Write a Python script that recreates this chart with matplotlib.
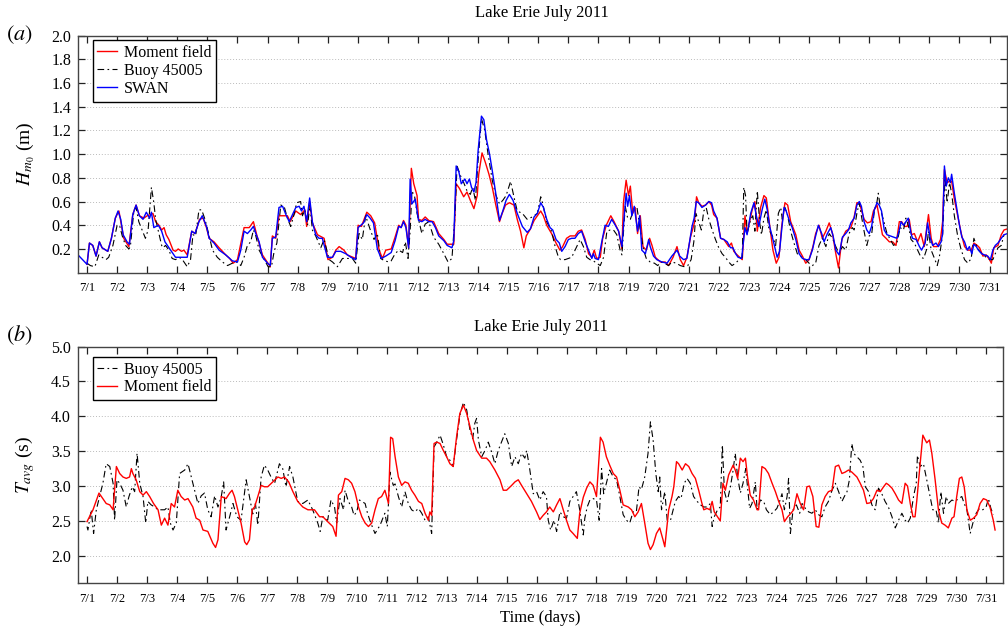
import matplotlib
matplotlib.use("Agg")
import matplotlib.pyplot as plt
import numpy as np

plt.rcParams['font.family'] = ['Liberation Serif', 'DejaVu Serif']
plt.rcParams['mathtext.fontset'] = 'stix'

# days since 7/1 00:00 and Hm0 (m)
hm0_moment = [
    (0.00, 0.07), (0.08, 0.25), (0.19, 0.23), (0.30, 0.14), (0.41, 0.26), (0.50, 0.21), (0.69, 0.18), (0.81, 0.29), (0.94, 0.46),
    (1.06, 0.52), (1.22, 0.29), (1.39, 0.22), (1.52, 0.49), (1.63, 0.57), (1.74, 0.48), (1.89, 0.46), (2.00, 0.48), (2.11, 0.49),
    (2.19, 0.50), (2.28, 0.43), (2.39, 0.40), (2.48, 0.36), (2.56, 0.38), (2.63, 0.32), (2.72, 0.28), (2.86, 0.19), (2.94, 0.18),
    (3.03, 0.20), (3.14, 0.18), (3.22, 0.19), (3.33, 0.15), (3.48, 0.35), (3.59, 0.33), (3.74, 0.45), (3.86, 0.46), (3.97, 0.38),
    (4.06, 0.29), (4.22, 0.26), (4.39, 0.21), (4.61, 0.15), (4.74, 0.12), (4.86, 0.08),
    (5.00, 0.11), (5.22, 0.38), (5.39, 0.38), (5.53, 0.43), (5.64, 0.32), (5.83, 0.15), (6.09, 0.05), (6.16, 0.31), (6.27, 0.29),
    (6.38, 0.48), (6.50, 0.48), (6.66, 0.48), (6.75, 0.43), (6.94, 0.52), (7.10, 0.49), (7.24, 0.53), (7.30, 0.39), (7.40, 0.60),
    (7.49, 0.42), (7.66, 0.32), (7.88, 0.29), (8.01, 0.11), (8.16, 0.13), (8.27, 0.19), (8.38, 0.22), (8.54, 0.19), (8.65, 0.15),
    (8.93, 0.12), (9.01, 0.40), (9.12, 0.39), (9.30, 0.51), (9.43, 0.48), (9.56, 0.42), (9.71, 0.19), (9.82, 0.12), (9.93, 0.19),
    (10.11, 0.20), (10.24, 0.30), (10.36, 0.40), (10.44, 0.38), (10.52, 0.44), (10.60, 0.40), (10.69, 0.21), (10.78, 0.88),
    (10.86, 0.75), (10.97, 0.65), (11.02, 0.45), (11.13, 0.44), (11.24, 0.47), (11.36, 0.44), (11.52, 0.43), (11.69, 0.33),
    (11.86, 0.28), (11.97, 0.24), (12.19, 0.24), (12.27, 0.75), (12.38, 0.71), (12.52, 0.64), (12.63, 0.68), (12.74, 0.61),
    (12.86, 0.54), (12.97, 0.65), (13.02, 0.83), (13.13, 1.01), (13.24, 0.93), (13.36, 0.83), (13.47, 0.72), (13.58, 0.58),
    (13.71, 0.43), (13.80, 0.50), (13.91, 0.57), (14.04, 0.59), (14.19, 0.57), (14.30, 0.45), (14.41, 0.35), (14.52, 0.21),
    (14.60, 0.31), (14.74, 0.37), (14.86, 0.44), (14.97, 0.48), (15.08, 0.52), (15.17, 0.48), (15.28, 0.40),
    (15.44, 0.33), (15.59, 0.25), (15.72, 0.19), (15.81, 0.22), (15.94, 0.29), (16.06, 0.31), (16.22, 0.31), (16.33, 0.35),
    (16.44, 0.36), (16.56, 0.28), (16.67, 0.16), (16.78, 0.13), (16.86, 0.19), (16.94, 0.12), (17.06, 0.13), (17.14, 0.29),
    (17.26, 0.40), (17.41, 0.48), (17.52, 0.43), (17.67, 0.35), (17.78, 0.20), (17.83, 0.59), (17.92, 0.78), (18.00, 0.65),
    (18.06, 0.73), (18.14, 0.50), (18.22, 0.55), (18.30, 0.33), (18.39, 0.48), (18.48, 0.22), (18.59, 0.19), (18.70, 0.29),
    (18.78, 0.23), (18.89, 0.13), (19.06, 0.09), (19.22, 0.09), (19.33, 0.06), (19.48, 0.13), (19.61, 0.22), (19.72, 0.11),
    (19.83, 0.06), (19.94, 0.13), (20.06, 0.30), (20.19, 0.42), (20.26, 0.64),
    (20.33, 0.59), (20.44, 0.56), (20.56, 0.57), (20.67, 0.60), (20.76, 0.57), (20.83, 0.49), (20.94, 0.46), (21.06, 0.29),
    (21.17, 0.28), (21.33, 0.22), (21.42, 0.25), (21.50, 0.18), (21.61, 0.15), (21.78, 0.11), (21.87, 0.48), (21.94, 0.33),
    (22.11, 0.53), (22.20, 0.60), (22.28, 0.35), (22.39, 0.55), (22.50, 0.65), (22.58, 0.63), (22.69, 0.40), (22.80, 0.19),
    (22.91, 0.08), (23.00, 0.13), (23.09, 0.39), (23.20, 0.59), (23.29, 0.57), (23.39, 0.43), (23.56, 0.32), (23.67, 0.19),
    (23.78, 0.14), (23.89, 0.08), (24.00, 0.11), (24.13, 0.22), (24.22, 0.33), (24.33, 0.40), (24.44, 0.29), (24.56, 0.35),
    (24.67, 0.42), (24.78, 0.33), (24.89, 0.16), (24.98, 0.04), (25.09, 0.28), (25.22, 0.35), (25.39, 0.38), (25.50, 0.47),
    (25.59, 0.59), (25.67, 0.59), (25.83, 0.45), (25.94, 0.42), (26.06, 0.43), (26.14, 0.52), (26.26, 0.57), (26.37, 0.42),
    (26.44, 0.32), (26.56, 0.29), (26.67, 0.26), (26.78, 0.26), (26.89, 0.23), (27.00, 0.43), (27.08, 0.43), (27.17, 0.39),
    (27.26, 0.39), (27.33, 0.45), (27.41, 0.32), (27.50, 0.33), (27.61, 0.26), (27.72, 0.33), (27.83, 0.22), (27.97, 0.49),
    (28.06, 0.29), (28.14, 0.22), (28.26, 0.22), (28.37, 0.28), (28.44, 0.43), (28.50, 0.87), (28.59, 0.76), (28.67, 0.77),
    (28.74, 0.77), (28.83, 0.62), (28.94, 0.48), (29.06, 0.33), (29.17, 0.22), (29.28, 0.19), (29.39, 0.19), (29.48, 0.25),
    (29.59, 0.23), (29.67, 0.21), (29.78, 0.14), (29.89, 0.15), (30.00, 0.11), (30.06, 0.08), (30.14, 0.21), (30.28, 0.23),
    (30.39, 0.32), (30.48, 0.36), (30.60, 0.37),
]

hm0_swan = [
    (-0.30, 0.15), (0.00, 0.07), (0.08, 0.25), (0.19, 0.23), (0.30, 0.14), (0.41, 0.26), (0.50, 0.21), (0.69, 0.18), (0.81, 0.29),
    (0.94, 0.46), (1.03, 0.52), (1.12, 0.45), (1.20, 0.32), (1.33, 0.26), (1.41, 0.24), (1.52, 0.49), (1.63, 0.57), (1.74, 0.48),
    (1.86, 0.45), (1.97, 0.51), (2.08, 0.46), (2.14, 0.51), (2.22, 0.38), (2.37, 0.40), (2.48, 0.35), (2.59, 0.26), (2.78, 0.19),
    (2.94, 0.13), (3.11, 0.13), (3.33, 0.13), (3.48, 0.35), (3.59, 0.33), (3.72, 0.43), (3.83, 0.48), (3.97, 0.39), (4.06, 0.29),
    (4.22, 0.25), (4.39, 0.19), (4.61, 0.15), (4.83, 0.10),
    (5.00, 0.09), (5.11, 0.19), (5.22, 0.35), (5.33, 0.33), (5.44, 0.36), (5.53, 0.39), (5.61, 0.33), (5.72, 0.26), (5.83, 0.13),
    (6.00, 0.08), (6.09, 0.06), (6.16, 0.29), (6.27, 0.30), (6.38, 0.55), (6.50, 0.56), (6.61, 0.49), (6.72, 0.43), (6.83, 0.49),
    (6.94, 0.55), (7.05, 0.56), (7.13, 0.52), (7.21, 0.56), (7.30, 0.43), (7.40, 0.63), (7.49, 0.43), (7.60, 0.32), (7.71, 0.29),
    (7.82, 0.29), (7.99, 0.13), (8.16, 0.13), (8.27, 0.18), (8.43, 0.18), (8.60, 0.16), (8.77, 0.13), (8.93, 0.11), (9.01, 0.38),
    (9.10, 0.40), (9.19, 0.42), (9.30, 0.49), (9.41, 0.46), (9.52, 0.42), (9.65, 0.20), (9.78, 0.12), (9.93, 0.14),
    (10.11, 0.17), (10.24, 0.27), (10.36, 0.39), (10.44, 0.38), (10.52, 0.43), (10.60, 0.38), (10.69, 0.21), (10.74, 0.79),
    (10.80, 0.58), (10.91, 0.62), (11.02, 0.44), (11.13, 0.43), (11.24, 0.45), (11.36, 0.43), (11.47, 0.43), (11.58, 0.38),
    (11.69, 0.31), (11.86, 0.27), (11.97, 0.23), (12.13, 0.21), (12.19, 0.27), (12.27, 0.90), (12.36, 0.85), (12.44, 0.75),
    (12.56, 0.79), (12.63, 0.75), (12.71, 0.79), (12.78, 0.72), (12.86, 0.68), (12.93, 0.76), (13.00, 1.03), (13.11, 1.32),
    (13.19, 1.29), (13.28, 1.12), (13.38, 1.00), (13.47, 0.86), (13.58, 0.68), (13.71, 0.44), (13.82, 0.52), (13.93, 0.61),
    (14.04, 0.66), (14.16, 0.61), (14.30, 0.50), (14.47, 0.39), (14.63, 0.34), (14.74, 0.37), (14.86, 0.47), (14.97, 0.50),
    (15.08, 0.59),
    (15.17, 0.55), (15.28, 0.45), (15.39, 0.38), (15.48, 0.36), (15.59, 0.28), (15.70, 0.25), (15.78, 0.18), (15.89, 0.22),
    (16.00, 0.28), (16.11, 0.29), (16.22, 0.29), (16.33, 0.33), (16.44, 0.35), (16.56, 0.26), (16.67, 0.19), (16.78, 0.12),
    (16.83, 0.16), (16.89, 0.12), (17.00, 0.11), (17.11, 0.26), (17.22, 0.40), (17.33, 0.39), (17.44, 0.45), (17.56, 0.40),
    (17.67, 0.35), (17.78, 0.22), (17.86, 0.49), (17.92, 0.67), (17.97, 0.56), (18.03, 0.65), (18.11, 0.48), (18.19, 0.56),
    (18.30, 0.35), (18.37, 0.48), (18.44, 0.19), (18.56, 0.16), (18.67, 0.28), (18.72, 0.22), (18.83, 0.14), (18.94, 0.11),
    (19.11, 0.09), (19.28, 0.08), (19.44, 0.14), (19.61, 0.19), (19.70, 0.14), (19.83, 0.11), (19.94, 0.12), (20.11, 0.39),
    (20.18, 0.46), (20.25, 0.60),
    (20.33, 0.59), (20.44, 0.55), (20.56, 0.57), (20.67, 0.60), (20.76, 0.59), (20.83, 0.52), (20.94, 0.46), (21.06, 0.29),
    (21.17, 0.28), (21.28, 0.26), (21.39, 0.21), (21.47, 0.21), (21.56, 0.16), (21.64, 0.13), (21.76, 0.12), (21.87, 0.38),
    (21.94, 0.32), (22.06, 0.50), (22.17, 0.59), (22.24, 0.49), (22.33, 0.39), (22.44, 0.53), (22.53, 0.62), (22.61, 0.53),
    (22.69, 0.39), (22.80, 0.28), (22.94, 0.13), (23.02, 0.18), (23.09, 0.36), (23.17, 0.55), (23.24, 0.52), (23.33, 0.45),
    (23.44, 0.38), (23.56, 0.28), (23.67, 0.16), (23.78, 0.12), (23.89, 0.11), (24.00, 0.11), (24.11, 0.19), (24.20, 0.29),
    (24.31, 0.40), (24.42, 0.33), (24.50, 0.26), (24.61, 0.33), (24.72, 0.38), (24.80, 0.31), (24.89, 0.19), (25.00, 0.15),
    (25.11, 0.30), (25.22, 0.33), (25.31, 0.36), (25.39, 0.42), (25.50, 0.46),
    (25.59, 0.57), (25.67, 0.60), (25.74, 0.56), (25.83, 0.43), (25.92, 0.36), (26.00, 0.33), (26.08, 0.39), (26.17, 0.53),
    (26.26, 0.59), (26.33, 0.57), (26.41, 0.52), (26.50, 0.36), (26.59, 0.32), (26.70, 0.31), (26.81, 0.30), (26.92, 0.29),
    (27.00, 0.36), (27.06, 0.43), (27.14, 0.40), (27.22, 0.43), (27.30, 0.46), (27.39, 0.33), (27.44, 0.29), (27.56, 0.28),
    (27.67, 0.22), (27.74, 0.19), (27.86, 0.25), (27.94, 0.42), (28.03, 0.29), (28.11, 0.23), (28.22, 0.25), (28.30, 0.22),
    (28.39, 0.26), (28.44, 0.33), (28.50, 0.90), (28.56, 0.73), (28.63, 0.80), (28.70, 0.76), (28.74, 0.83), (28.83, 0.67),
    (28.92, 0.53), (29.00, 0.40), (29.08, 0.30), (29.17, 0.26), (29.26, 0.19), (29.33, 0.22), (29.41, 0.16), (29.48, 0.24),
    (29.56, 0.22), (29.63, 0.19), (29.74, 0.16), (29.83, 0.15), (29.94, 0.14), (30.03, 0.11), (30.11, 0.19), (30.19, 0.23),
    (30.28, 0.25), (30.39, 0.29), (30.48, 0.32), (30.60, 0.33),
]

hm0_buoy = [
    (0.00, 0.08), (0.11, 0.06), (0.26, 0.05), (0.39, 0.15), (0.50, 0.13), (0.63, 0.11), (0.72, 0.13), (0.86, 0.23), (1.00, 0.40),
    (1.08, 0.40), (1.17, 0.31), (1.28, 0.23), (1.39, 0.20), (1.44, 0.22), (1.56, 0.53), (1.63, 0.55), (1.72, 0.43), (1.83, 0.36),
    (1.94, 0.29), (2.03, 0.36), (2.14, 0.72), (2.22, 0.59), (2.28, 0.45), (2.39, 0.33), (2.48, 0.23), (2.52, 0.21), (2.61, 0.23),
    (2.72, 0.19), (2.83, 0.12), (2.94, 0.11), (3.06, 0.13), (3.17, 0.11), (3.33, 0.05), (3.44, 0.11), (3.52, 0.32), (3.61, 0.31),
    (3.72, 0.53), (3.81, 0.53), (3.92, 0.45), (4.06, 0.31), (4.17, 0.19), (4.33, 0.13), (4.50, 0.09), (4.67, 0.06), (4.83, 0.08),
    (5.00, 0.09), (5.11, 0.06), (5.22, 0.13), (5.33, 0.23), (5.44, 0.26), (5.53, 0.36), (5.61, 0.31), (5.72, 0.19), (5.89, 0.11),
    (6.02, 0.05), (6.13, 0.05), (6.22, 0.18), (6.31, 0.25), (6.44, 0.57), (6.55, 0.56), (6.66, 0.46), (6.77, 0.39), (6.88, 0.49),
    (6.97, 0.59), (7.10, 0.60), (7.16, 0.48), (7.24, 0.53), (7.33, 0.40), (7.41, 0.57), (7.49, 0.36), (7.60, 0.31), (7.77, 0.21),
    (7.88, 0.28), (8.05, 0.11), (8.16, 0.09), (8.32, 0.05), (8.49, 0.12), (8.65, 0.12), (8.82, 0.12), (8.93, 0.08), (9.04, 0.33),
    (9.15, 0.28), (9.26, 0.48), (9.43, 0.35), (9.54, 0.28), (9.65, 0.33), (9.76, 0.12), (9.89, 0.10), (10.04, 0.09),
    (10.11, 0.10), (10.24, 0.16), (10.36, 0.19), (10.49, 0.17), (10.58, 0.26), (10.67, 0.12), (10.74, 0.35), (10.80, 0.69),
    (10.89, 0.64), (10.97, 0.50), (11.13, 0.33), (11.24, 0.41), (11.36, 0.43), (11.52, 0.30), (11.69, 0.24), (11.86, 0.16),
    (12.00, 0.09), (12.13, 0.12), (12.22, 0.44), (12.30, 0.90), (12.41, 0.82), (12.52, 0.76), (12.63, 0.69), (12.74, 0.66),
    (12.82, 0.72), (12.91, 0.61), (13.00, 0.95), (13.11, 1.30), (13.22, 1.20), (13.33, 1.00), (13.47, 0.78), (13.58, 0.66),
    (13.71, 0.58), (13.82, 0.61), (13.93, 0.65), (14.08, 0.77), (14.19, 0.64), (14.30, 0.52), (14.47, 0.50), (14.63, 0.45),
    (14.80, 0.47), (14.97, 0.50), (15.08, 0.64),
    (15.14, 0.59), (15.28, 0.43), (15.44, 0.35), (15.56, 0.22), (15.67, 0.13), (15.74, 0.11), (15.89, 0.11), (16.00, 0.12),
    (16.11, 0.13), (16.28, 0.22), (16.39, 0.28), (16.50, 0.22), (16.61, 0.13), (16.72, 0.11), (16.83, 0.10), (16.94, 0.08),
    (17.06, 0.06), (17.17, 0.13), (17.28, 0.35), (17.39, 0.36), (17.50, 0.36), (17.61, 0.32), (17.72, 0.19), (17.78, 0.15),
    (17.89, 0.56), (17.97, 0.46), (18.06, 0.45), (18.17, 0.53), (18.28, 0.55), (18.39, 0.36), (18.50, 0.19), (18.59, 0.12),
    (18.72, 0.09), (18.86, 0.08), (18.97, 0.06), (19.08, 0.09), (19.19, 0.08), (19.33, 0.06), (19.44, 0.09), (19.59, 0.08),
    (19.72, 0.06), (19.86, 0.05), (19.97, 0.06), (20.08, 0.11), (20.17, 0.26), (20.24, 0.50),
    (20.33, 0.43), (20.42, 0.36), (20.50, 0.52), (20.58, 0.55), (20.67, 0.45), (20.78, 0.36), (20.89, 0.28), (21.00, 0.21),
    (21.11, 0.16), (21.22, 0.13), (21.33, 0.09), (21.44, 0.06), (21.56, 0.08), (21.67, 0.11), (21.78, 0.13), (21.83, 0.72),
    (21.89, 0.65), (21.94, 0.33), (22.06, 0.45), (22.13, 0.48), (22.20, 0.35), (22.28, 0.69), (22.36, 0.42), (22.42, 0.32),
    (22.50, 0.46), (22.58, 0.53), (22.67, 0.36), (22.78, 0.31), (22.89, 0.23), (22.98, 0.50), (23.06, 0.55), (23.11, 0.45),
    (23.20, 0.55), (23.28, 0.49), (23.39, 0.35), (23.50, 0.25), (23.61, 0.16), (23.76, 0.13), (23.89, 0.11), (24.00, 0.08),
    (24.11, 0.06), (24.22, 0.08), (24.33, 0.23), (24.44, 0.29), (24.56, 0.22), (24.67, 0.33), (24.78, 0.29), (24.89, 0.22),
    (25.00, 0.16), (25.11, 0.22), (25.22, 0.19), (25.33, 0.33), (25.44, 0.38), (25.50, 0.36),
    (25.59, 0.50), (25.67, 0.59), (25.74, 0.48), (25.83, 0.35), (25.92, 0.23), (26.00, 0.31), (26.08, 0.32), (26.17, 0.52),
    (26.26, 0.60), (26.30, 0.67), (26.39, 0.52), (26.50, 0.42), (26.59, 0.33), (26.70, 0.28), (26.81, 0.23), (26.92, 0.25),
    (27.03, 0.38), (27.14, 0.36), (27.22, 0.46), (27.30, 0.40), (27.39, 0.28), (27.50, 0.25), (27.61, 0.19), (27.72, 0.13),
    (27.81, 0.12), (27.90, 0.19), (27.97, 0.35), (28.06, 0.19), (28.17, 0.12), (28.26, 0.06), (28.33, 0.13), (28.44, 0.32),
    (28.52, 0.80), (28.59, 0.59), (28.67, 0.76), (28.74, 0.67), (28.83, 0.48), (28.94, 0.31), (29.06, 0.19), (29.17, 0.11),
    (29.28, 0.08), (29.39, 0.12), (29.48, 0.29), (29.56, 0.23), (29.67, 0.18), (29.78, 0.15), (29.89, 0.13), (30.00, 0.11),
    (30.11, 0.11), (30.19, 0.16), (30.28, 0.21), (30.39, 0.23), (30.48, 0.32),
]

# days since 7/1 00:00 and Tavg (s)
tavg_moment = [
    (0.00, 2.49), (0.20, 2.66), (0.40, 2.90), (0.64, 2.75), (0.76, 2.73), (0.87, 2.66), (0.98, 3.28), (1.09, 3.18), (1.20, 3.13),
    (1.31, 3.11), (1.42, 3.13), (1.48, 3.25), (1.53, 3.18), (1.64, 3.09), (1.76, 2.92), (1.87, 2.87), (1.98, 2.92), (2.09, 2.85),
    (2.22, 2.75), (2.37, 2.66), (2.48, 2.44), (2.59, 2.54), (2.70, 2.44), (2.81, 2.75), (2.92, 2.70), (3.03, 2.94), (3.14, 2.85),
    (3.26, 2.80), (3.37, 2.82), (3.53, 2.70), (3.64, 2.54), (3.76, 2.51), (3.87, 2.37), (4.03, 2.35), (4.20, 2.18), (4.29, 2.12),
    (4.37, 2.23), (4.48, 2.85), (4.64, 2.82), (4.76, 2.90), (4.84, 2.94), (4.92, 2.85), (5.03, 2.66), (5.14, 2.47), (5.26, 2.20),
    (5.33, 2.16), (5.42, 2.23), (5.51, 2.66), (5.59, 2.70), (5.70, 2.85), (5.81, 3.01), (5.92, 2.99), (6.03, 2.99), (6.20, 3.06),
    (6.37, 3.13), (6.48, 3.11), (6.59, 3.13), (6.73, 3.06), (6.87, 2.92), (7.03, 2.78), (7.20, 2.70), (7.37, 2.66), (7.59, 2.66),
    (7.76, 2.56), (7.87, 2.56), (8.03, 2.49), (8.20, 2.42), (8.31, 2.28),
    (8.39, 2.87), (8.50, 2.92), (8.61, 3.11), (8.72, 3.09), (8.83, 3.04), (8.94, 2.92), (9.06, 2.70), (9.17, 2.56), (9.28, 2.47),
    (9.39, 2.42), (9.50, 2.47), (9.61, 2.66), (9.72, 2.82), (9.83, 2.85), (9.94, 2.94), (10.06, 2.75), (10.13, 3.70),
    (10.20, 3.68), (10.28, 3.42), (10.39, 3.13), (10.50, 3.01), (10.61, 3.06), (10.72, 3.04), (10.83, 2.94), (10.94, 2.87),
    (11.06, 2.78), (11.17, 2.75), (11.28, 2.61), (11.39, 2.51), (11.44, 2.63), (11.50, 2.58), (11.58, 3.61), (11.67, 3.63),
    (11.78, 3.61), (11.89, 3.51), (12.00, 3.42), (12.11, 3.32), (12.22, 3.28), (12.33, 3.70), (12.44, 4.04), (12.56, 4.16),
    (12.67, 4.04), (12.78, 3.85), (12.89, 3.66), (13.00, 3.51), (13.17, 3.40), (13.33, 3.40), (13.44, 3.35), (13.61, 3.23),
    (13.78, 3.09), (13.89, 2.94), (14.00, 2.94), (14.17, 3.01), (14.28, 3.06), (14.39, 3.09), (14.50, 3.01), (14.67, 2.89),
    (14.83, 2.78), (15.00, 2.63), (15.11, 2.52), (15.22, 2.58), (15.33, 2.63), (15.44, 2.70), (15.56, 2.63), (15.67, 2.73),
    (15.78, 2.82), (15.89, 2.66), (16.00, 2.51), (16.11, 2.37), (16.22, 2.32), (16.36, 2.25), (16.44, 2.61), (16.56, 2.84),
    (16.67, 2.97), (16.78, 3.06), (16.89, 3.01), (17.00, 2.85), (17.13, 3.70), (17.22, 3.63), (17.33, 3.42), (17.44, 3.30),
    (17.56, 3.18), (17.67, 3.13), (17.78, 2.94), (17.89, 2.73), (18.06, 2.70), (18.17, 2.66), (18.28, 2.56), (18.39, 2.63),
    (18.50, 2.75), (18.61, 2.47), (18.72, 2.18), (18.80, 2.09), (18.89, 2.16), (19.00, 2.32), (19.11, 2.40), (19.22, 2.23),
    (19.28, 2.13), (19.41, 2.66), (19.52, 2.85), (19.58, 2.99), (19.67, 3.35), (19.74, 3.32), (19.86, 3.23), (19.97, 3.32),
    (20.08, 3.28), (20.19, 3.18), (20.30, 3.11), (20.41, 2.94), (20.52, 2.75), (20.58, 2.66), (20.69, 2.68), (20.78, 2.66),
    (20.86, 2.78), (20.93, 2.63), (21.13, 2.50), (21.22, 3.04), (21.30, 2.94), (21.41, 3.16), (21.56, 3.30), (21.63, 3.23),
    (21.71, 3.11), (21.80, 3.40), (21.89, 3.35), (21.97, 3.40), (22.04, 3.13), (22.13, 2.87), (22.24, 2.80), (22.36, 2.66),
    (22.41, 2.66), (22.52, 3.28), (22.63, 3.25), (22.74, 3.18), (22.86, 3.04), (22.97, 2.92), (23.08, 2.78), (23.19, 2.66),
    (23.27, 2.49), (23.38, 2.56), (23.49, 2.61), (23.58, 2.66), (23.69, 2.89), (23.80, 2.75), (23.91, 2.66), (24.02, 2.99),
    (24.11, 3.00), (24.22, 2.85), (24.33, 2.42), (24.42, 2.41), (24.52, 2.73), (24.63, 2.85), (24.74, 2.92), (24.86, 2.94),
    (24.97, 3.28), (25.08, 3.30), (25.19, 3.18), (25.30, 3.20), (25.41, 3.23), (25.52, 3.20), (25.69, 3.13), (25.80, 3.04),
    (25.91, 2.94), (26.02, 2.75), (26.13, 2.76), (26.24, 2.82), (26.36, 2.94), (26.47, 2.92), (26.58, 2.99), (26.67, 3.04),
    (26.74, 3.02), (26.86, 2.97), (26.97, 2.89), (27.08, 2.80), (27.19, 2.75), (27.30, 3.04), (27.38, 3.00), (27.47, 2.75),
    (27.56, 2.56), (27.63, 2.56), (27.69, 2.80), (27.78, 3.23), (27.89, 3.73), (27.97, 3.66), (28.02, 3.62), (28.11, 3.66),
    (28.19, 3.47), (28.30, 3.09), (28.41, 2.66), (28.52, 2.47), (28.63, 2.44), (28.74, 2.40), (28.86, 2.54), (28.93, 2.56),
    (29.02, 2.85), (29.11, 3.11), (29.19, 3.13), (29.27, 2.99), (29.36, 2.66), (29.47, 2.51), (29.58, 2.54), (29.69, 2.59),
    (29.80, 2.75), (29.91, 2.82), (30.02, 2.80), (30.13, 2.70), (30.24, 2.51), (30.30, 2.37),
]

tavg_buoy = [
    (0.00, 2.42), (0.03, 2.37), (0.14, 2.66), (0.22, 2.32), (0.31, 2.66), (0.42, 2.85), (0.53, 3.04), (0.64, 3.32), (0.76, 3.28),
    (0.87, 3.04), (0.92, 2.51), (1.00, 3.09), (1.09, 3.04), (1.20, 2.94), (1.31, 2.70), (1.40, 2.85), (1.51, 2.99), (1.59, 2.92),
    (1.67, 3.47), (1.76, 3.04), (1.87, 2.85), (1.96, 2.47), (2.03, 2.78), (2.14, 2.73), (2.26, 2.70), (2.37, 2.66), (2.48, 2.66),
    (2.59, 2.66), (2.70, 2.70), (2.78, 2.47), (2.87, 2.37), (2.98, 2.47), (3.09, 3.18), (3.26, 3.23), (3.37, 3.32), (3.48, 3.13),
    (3.59, 2.94), (3.70, 2.75), (3.81, 2.86), (3.92, 2.90), (4.03, 2.66), (4.14, 2.56), (4.26, 2.86), (4.37, 2.70), (4.48, 2.85),
    (4.56, 3.06), (4.64, 2.37), (4.76, 2.56), (4.87, 2.75), (5.00, 2.56), (5.14, 2.51), (5.31, 3.09), (5.42, 2.85), (5.53, 2.60),
    (5.62, 2.75), (5.70, 2.44), (5.81, 3.13), (5.92, 3.30), (6.03, 3.23), (6.14, 3.13), (6.26, 3.04), (6.42, 3.32), (6.53, 3.25),
    (6.64, 2.99), (6.76, 3.28), (6.87, 3.13), (7.03, 2.78), (7.20, 2.75), (7.37, 2.80), (7.53, 2.66), (7.70, 2.47), (7.78, 2.35),
    (7.87, 2.56), (8.03, 2.51), (8.14, 2.80), (8.26, 2.70), (8.33, 2.47), (8.44, 2.82), (8.56, 2.66), (8.61, 2.94), (8.72, 2.78),
    (8.83, 2.70), (8.91, 2.58), (9.00, 2.63), (9.09, 2.80), (9.17, 2.78), (9.28, 2.75), (9.36, 2.61), (9.47, 2.47), (9.61, 2.32),
    (9.78, 2.44), (9.89, 2.56), (9.94, 2.61), (10.02, 2.42), (10.11, 3.20), (10.17, 3.09), (10.22, 3.01), (10.28, 3.03),
    (10.39, 2.85), (10.50, 2.70), (10.61, 2.92), (10.72, 2.75), (10.83, 2.66), (10.94, 2.63), (11.06, 2.68), (11.17, 2.61),
    (11.28, 2.51), (11.39, 2.56), (11.50, 2.32), (11.58, 3.56), (11.67, 3.63), (11.78, 3.73), (11.89, 3.59), (12.00, 3.42),
    (12.11, 3.37), (12.22, 3.28), (12.33, 3.66), (12.44, 4.01), (12.56, 4.20), (12.67, 4.09), (12.78, 3.80), (12.87, 3.68),
    (12.94, 3.90), (13.00, 3.97), (13.06, 3.66), (13.17, 3.42), (13.28, 3.51), (13.39, 3.63), (13.50, 3.49), (13.61, 3.32),
    (13.72, 3.51), (13.83, 3.63), (13.94, 3.75), (14.06, 3.61), (14.17, 3.28), (14.28, 3.42), (14.39, 3.32), (14.50, 3.47),
    (14.61, 3.40), (14.67, 3.51), (14.76, 3.28), (14.89, 2.89), (15.00, 2.92), (15.11, 2.80), (15.22, 2.92), (15.33, 2.85),
    (15.39, 2.51), (15.47, 2.37), (15.58, 2.51), (15.67, 2.35), (15.78, 2.63), (15.89, 2.56), (16.00, 2.54), (16.11, 2.78),
    (16.22, 2.85), (16.33, 2.92), (16.44, 2.66), (16.56, 2.30), (16.61, 2.54), (16.69, 2.70), (16.78, 2.80), (16.89, 2.82),
    (17.00, 2.80), (17.09, 2.51), (17.17, 3.25), (17.24, 2.89), (17.33, 3.04), (17.44, 3.23), (17.56, 3.13), (17.67, 3.09),
    (17.78, 2.85), (17.89, 2.59), (18.00, 2.51), (18.11, 2.47), (18.22, 2.63), (18.33, 2.63), (18.42, 2.99), (18.50, 2.95),
    (18.61, 3.13), (18.72, 3.47), (18.80, 3.92), (18.89, 3.66), (18.98, 3.18), (19.06, 2.92), (19.11, 3.13), (19.17, 2.66),
    (19.28, 2.92), (19.36, 2.51), (19.47, 2.51), (19.56, 2.66), (19.63, 2.78), (19.74, 2.85), (19.82, 2.82), (19.93, 3.04),
    (20.02, 3.11), (20.13, 3.04), (20.24, 2.85), (20.36, 2.78), (20.47, 2.73), (20.58, 2.70), (20.69, 2.70), (20.80, 2.75),
    (20.86, 2.42), (20.93, 2.56), (21.04, 2.66), (21.13, 2.70), (21.20, 3.59), (21.27, 2.92), (21.36, 2.78), (21.47, 2.99),
    (21.56, 3.23), (21.63, 3.47), (21.71, 3.13), (21.80, 2.90), (21.89, 3.04), (21.98, 3.25), (22.04, 2.99), (22.11, 2.68),
    (22.19, 2.75), (22.30, 3.06), (22.36, 2.66), (22.47, 2.80), (22.58, 2.78), (22.67, 2.66), (22.80, 2.59), (22.91, 2.63),
    (23.02, 2.68), (23.11, 2.78), (23.19, 2.89), (23.27, 2.66), (23.36, 2.85), (23.41, 3.11), (23.47, 2.32), (23.56, 2.66),
    (23.67, 2.73), (23.78, 2.61), (23.86, 2.75), (23.97, 2.68), (24.08, 2.63), (24.19, 2.61), (24.30, 2.66), (24.41, 2.59),
    (24.52, 2.56), (24.63, 2.70), (24.74, 2.78), (24.86, 2.94), (24.97, 3.04), (25.08, 2.92), (25.19, 2.78), (25.27, 2.85),
    (25.36, 2.92), (25.44, 3.09), (25.52, 3.61), (25.58, 3.47), (25.69, 3.42), (25.80, 3.37), (25.89, 3.28), (25.97, 2.99),
    (26.08, 2.92), (26.19, 2.73), (26.30, 2.66), (26.41, 2.97), (26.52, 2.89), (26.63, 2.78), (26.74, 2.70), (26.86, 2.56),
    (26.97, 2.40), (27.08, 2.51), (27.19, 2.61), (27.30, 2.51), (27.38, 2.47), (27.47, 2.54), (27.58, 2.85), (27.67, 3.04),
    (27.71, 3.44), (27.80, 3.28), (27.91, 3.32), (28.02, 3.09), (28.13, 2.85), (28.22, 2.66), (28.33, 2.66), (28.41, 2.47),
    (28.49, 2.92), (28.58, 2.61), (28.67, 2.85), (28.74, 2.75), (28.86, 2.80), (28.97, 2.78), (29.08, 2.82), (29.19, 2.85),
    (29.27, 2.75), (29.36, 2.66), (29.47, 2.32), (29.56, 2.47), (29.67, 2.61), (29.78, 2.68), (29.89, 2.66), (30.00, 2.70),
    (30.08, 2.82), (30.16, 2.68), (30.24, 2.59),
]

day_labels = ['7/%d' % d for d in range(1, 32)]

DASHDOT = (0, (6, 3, 1.5, 3))


def split(pairs):
    arr = np.array(pairs)
    return arr[:, 0], arr[:, 1]


def style_axes(ax, yticks, ylim):
    ax.set_xlim(-0.3, 30.57)
    ax.set_ylim(*ylim)
    ax.set_xticks(range(len(day_labels)))
    ax.set_xticklabels(day_labels, fontsize=9)
    ax.set_yticks(yticks)
    ax.set_yticklabels(['%.1f' % v for v in yticks], fontsize=11.5)
    ax.tick_params(axis='both', direction='in', top=True, right=True, length=5, width=0.9, color='#222222')
    ax.tick_params(axis='x', pad=7)
    ax.tick_params(axis='y', pad=5)
    ax.yaxis.grid(True, linestyle=(0, (1, 2)), color='#bbbbbb', linewidth=0.7)
    for sp in ax.spines.values():
        sp.set_color('#444444')
        sp.set_linewidth(1.0)


def add_legend(ax, anchor_y):
    leg = ax.legend(loc='upper left', bbox_to_anchor=(0.0158, anchor_y), borderaxespad=0, fontsize=11.5,
                    handlelength=1.25, handletextpad=0.4, labelspacing=0.12, borderpad=0.3,
                    fancybox=False, framealpha=1, edgecolor='black')
    leg.get_frame().set_linewidth(1.0)


fig = plt.figure(figsize=(10.08, 6.34), dpi=100)
ax1 = fig.add_axes([0.0774, 0.5699, 0.9213, 0.3741])
ax2 = fig.add_axes([0.0774, 0.0804, 0.9178, 0.3730])

t, v = split(hm0_moment)
ax1.plot(t, v, color='#ff0000', lw=1.0, label='Moment field')
t, v = split(hm0_buoy)
ax1.plot(t, v, color='black', lw=0.8, linestyle=DASHDOT, label='Buoy 45005')
t, v = split(hm0_swan)
ax1.plot(t, v, color='#0000ff', lw=1.0, label='SWAN')
style_axes(ax1, [0.2, 0.4, 0.6, 0.8, 1.0, 1.2, 1.4, 1.6, 1.8, 2.0], (0, 2.0))
ax1.set_title('Lake Erie July 2011', fontsize=12, pad=13)
ax1.set_ylabel(r'$H_{m_0}$ (m)', fontsize=14, labelpad=10)
add_legend(ax1, 0.98)

t, v = split(tavg_buoy)
ax2.plot(t, v, color='black', lw=0.8, linestyle=DASHDOT, label='Buoy 45005')
t, v = split(tavg_moment)
ax2.plot(t, v, color='#ff0000', lw=1.0, label='Moment field')
style_axes(ax2, [2.0, 2.5, 3.0, 3.5, 4.0, 4.5, 5.0], (1.61, 5.0))
ax2.set_title('Lake Erie July 2011', fontsize=12, pad=11)
ax2.set_ylabel(r'$T_{avg}$ (s)', fontsize=14, labelpad=10)
ax2.set_xlabel('Time (days)', fontsize=12, labelpad=4)
add_legend(ax2, 0.957)

fig.text(0.006, 1 - 35 / 634, r'$(a)$', fontsize=16, ha='left', va='center')
fig.text(0.006, 1 - 335 / 634, r'$(b)$', fontsize=16, ha='left', va='center')

fig.savefig('out.png', dpi=100)
